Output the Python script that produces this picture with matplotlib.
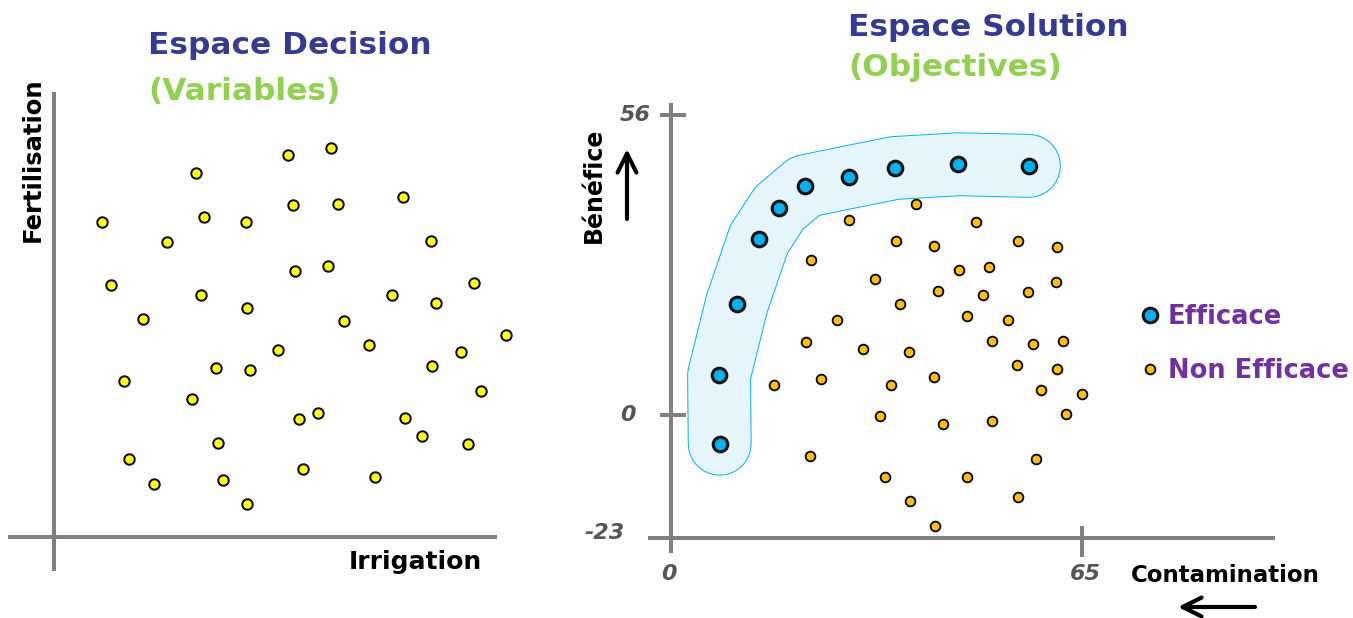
import matplotlib
matplotlib.use("Agg")
import matplotlib.pyplot as plt

# ---- data ----
# decision space (Irrigation, Fertilisation), arbitrary units
dec_x = [48, 142, 234, 277, 349, 239, 284, 150, 192, 113, 377, 57, 147, 241, 274,
         338, 420, 382, 89, 193, 290, 452, 315, 224, 407, 162, 196, 378, 70, 138,
         427, 245, 264, 351, 368, 414, 164, 75, 100, 169, 193, 249, 321]
dec_y = [315, 364, 382, 389, 340, 332, 333, 320, 315, 295, 296, 252, 242, 266, 271,
         242, 254, 234, 218, 229, 216, 202, 192, 187, 185, 169, 167, 171, 156, 138,
         146, 118, 124, 119, 101, 93, 94, 78, 53, 57, 33, 68, 60]

# solution space (Contamination, Benefice) - efficient front
eff_x = [7.7, 7.6, 10.4, 13.9, 17.1, 21.2, 28.2, 35.4, 45.4, 56.6]
eff_y = [-5.4, 7.4, 20.7, 32.8, 38.6, 42.7, 44.4, 46.1, 46.8, 46.5]

# non efficient solutions
neff_x = [38.7, 28.2, 48.2, 35.6, 41.6, 54.9, 61.0, 22.1, 45.5, 50.3, 32.3, 42.2,
          49.3, 56.5, 60.9, 36.2, 26.3, 46.8, 53.3, 21.4, 30.4, 37.6, 50.8, 57.3,
          62.0, 54.7, 61.0, 16.3, 23.7, 34.8, 41.6, 58.5, 65.0, 33.1, 43.0, 50.8,
          62.5, 22.0, 57.7, 33.8, 46.8, 37.8, 54.9, 41.8]
neff_y = [39.4, 36.4, 36.0, 32.5, 31.5, 32.5, 31.3, 28.9, 27.0, 27.6, 25.4, 23.1,
          22.4, 22.9, 24.8, 20.7, 17.7, 18.5, 17.7, 13.6, 12.3, 11.7, 13.8, 13.2,
          13.8, 9.3, 8.6, 5.6, 6.7, 5.6, 7.1, 4.6, 3.9, -0.2, -1.7, -1.2,
          0.2, -7.7, -8.3, -11.6, -11.6, -16.1, -15.3, -20.8]

y_ticks = [56, 0, -23]
x_ticks = [0, 65]

W, H = 1353, 618
gray = "#808080"
fnt = "DejaVu Sans"


def fx(px):
    return px / W


def fy(py):
    return 1 - py / H


fig = plt.figure(figsize=(W / 100, H / 100), dpi=100)

# ---- left panel: decision space ----
axl = fig.add_axes([fx(8), fy(571), 489 / W, 479 / H])
axl.set_xlim(-46, 443)
axl.set_ylim(-34, 445)
axl.axis("off")
axl.axhline(0, color=gray, lw=2.9, zorder=1)
axl.axvline(0, color=gray, lw=2.9, zorder=1)
axl.plot(dec_x, dec_y, "o", ms=7.5, mfc="#ffff00", mec="black", mew=1.4,
         clip_on=False, zorder=3)

fig.text(fx(148), fy(46), "Espace Decision", color="#353b95", fontsize=22.5,
         fontweight="bold", family=fnt, ha="left", va="center")
fig.text(fx(148), fy(92), "(Variables)", color="#92d050", fontsize=22.5,
         fontweight="bold", family=fnt, ha="left", va="center")
fig.text(fx(482), fy(562), "Irrigation", fontsize=18, fontweight="bold",
         family=fnt, ha="right", va="center")
fig.text(fx(33), fy(160), "Fertilisation", fontsize=17.5, fontweight="bold",
         family=fnt, ha="center", va="center", rotation=90)

# ---- right panel: solution space ----
axr = fig.add_axes([fx(648), fy(553), 627 / W, 450 / H])
axr.set_xlim(-3.64, 95.52)
axr.set_ylim(-25.81, 58.24)
axr.axis("off")
axr.axvline(0, color=gray, lw=2.9, zorder=1)
axr.axhline(-23, color=gray, lw=2.9, zorder=1)
for t in y_ticks[:2]:
    axr.plot([-1.4, 2.0], [t, t], color=gray, lw=2.9, clip_on=False, zorder=1)
axr.plot([65, 65], [-21.1, -26.2], color=gray, lw=2.9, clip_on=False, zorder=1)

tick_kw = dict(color="#555555", fontsize=16, fontweight="bold", style="italic",
               family=fnt)
axr.text(-3.2, 56, "56", ha="right", va="center", **tick_kw)
axr.text(-6.8, 0, "0", ha="center", va="center", **tick_kw)
axr.text(-7.3, -22, "-23", ha="right", va="center", **tick_kw)
axr.text(-0.4, -29.7, "0", ha="center", va="center", **tick_kw)
axr.text(65.6, -29.7, "65", ha="center", va="center", **tick_kw)

# highlighted efficient band
axr.plot(eff_x, eff_y, color="#00b0f0", lw=46, solid_capstyle="round",
         solid_joinstyle="round", zorder=1.5)
axr.plot(eff_x, eff_y, color="#e4f5fc", lw=44.6, solid_capstyle="round",
         solid_joinstyle="round", zorder=1.6)

h_eff, = axr.plot(eff_x, eff_y, "o", ls="none", ms=10.5, mfc="#00b0f0",
                  mec="#111111", mew=2.2, zorder=4, label="Efficace")
h_neff, = axr.plot(neff_x, neff_y, "o", ls="none", ms=7, mfc="#ffc000",
                   mec="black", mew=1.3, zorder=3, clip_on=False,
                   label="Non Efficace")

fig.text(fx(848), fy(27), "Espace Solution", color="#353b95", fontsize=22.5,
         fontweight="bold", family=fnt, ha="left", va="center")
fig.text(fx(848), fy(68), "(Objectives)", color="#92d050", fontsize=22.5,
         fontweight="bold", family=fnt, ha="left", va="center")
fig.text(fx(594), fy(185), "Bénéfice", fontsize=17, fontweight="bold",
         family=fnt, ha="center", va="center", rotation=90)
fig.text(fx(1225), fy(575), "Contamination", fontsize=16.5, fontweight="bold",
         family=fnt, ha="center", va="center")

arrow_kw = dict(arrowstyle="->", lw=3, color="black", mutation_scale=34,
                shrinkA=0, shrinkB=0)
axr.annotate("", xy=(fx(627), fy(149)), xytext=(fx(627), fy(219)),
             xycoords="figure fraction", textcoords="figure fraction",
             arrowprops=arrow_kw)
axr.annotate("", xy=(fx(1178), fy(607)), xytext=(fx(1255), fy(607)),
             xycoords="figure fraction", textcoords="figure fraction",
             arrowprops=arrow_kw)

fig.legend(handles=[h_eff, h_neff], loc="center left",
           bbox_to_anchor=(fx(1138), fy(344)), frameon=False,
           labelcolor="#7030a0", prop=dict(family=fnt, weight="bold", size=18.5),
           handlelength=0.9, handletextpad=0.25, labelspacing=1.1,
           borderpad=0, borderaxespad=0, numpoints=1)

fig.savefig("out.png", dpi=100)
